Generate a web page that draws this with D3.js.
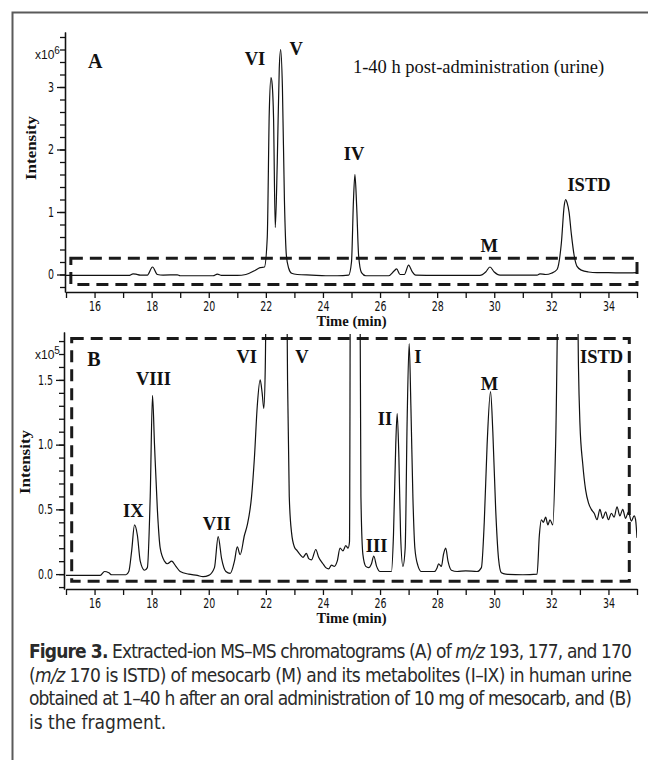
<!DOCTYPE html>
<html>
<head>
<meta charset="utf-8">
<script src="https://cdn.jsdelivr.net/npm/d3@7"></script>
<style>
  body { margin: 0; background: #fff; }
  svg { display: block; }
  .tick text { font-family: "Liberation Sans Narrow", "DejaVu Sans Condensed", sans-serif; font-size: 13.5px; fill: #111; }
  .lab { font-family: "Liberation Serif", "Times New Roman", serif; font-weight: bold; fill: #111; }
  .cap { font-family: "Liberation Sans Narrow", "DejaVu Sans Condensed", sans-serif; font-size: 19px; fill: #2a2a2a; }
</style>
</head>
<body>
<script>
// retention time (min), intensity (x10^6) - panel A
const traceA = [
  [15.0,-0.015],[17.2,-0.015],[17.35,0.01],[17.45,0.005],[17.6,-0.01],[17.85,-0.01],
  [18.03,0.12],[18.2,0.0],[18.4,-0.01],[18.9,-0.005],[19.0,-0.02],[20.15,-0.02],
  [20.3,0.005],[20.45,-0.015],[21.0,-0.015],[21.3,0.0],[21.6,0.06],[21.8,0.11],
  [21.95,0.12],[22.05,0.6],[22.12,2.6],[22.18,3.15],[22.22,3.05],[22.27,2.5],
  [22.33,0.75],[22.4,1.8],[22.47,3.3],[22.52,3.6],[22.58,3.0],[22.65,1.2],
  [22.72,0.3],[22.8,0.1],[22.9,0.02],[23.1,0.0],[23.6,-0.01],[24.1,-0.02],
  [24.5,-0.02],[24.9,-0.01],[25.0,0.2],[25.07,1.2],[25.12,1.6],[25.18,1.1],
  [25.25,0.3],[25.35,0.03],[25.5,-0.02],[26.3,-0.02],[26.5,0.06],[26.58,0.09],
  [26.7,0.0],[26.85,0.0],[27.0,0.15],[27.12,0.05],[27.25,-0.01],[28.0,-0.015],
  [29.5,-0.015],[29.7,0.04],[29.85,0.12],[30.0,0.04],[30.2,-0.01],[31.5,-0.01],
  [31.6,0.01],[31.8,0.0],[32.0,0.02],[32.2,0.08],[32.35,0.5],[32.45,1.1],
  [32.5,1.2],[32.55,1.15],[32.62,1.0],[32.7,0.65],[32.8,0.3],[32.9,0.13],
  [33.05,0.07],[33.3,0.04],[33.6,0.03],[34.0,0.03],[34.5,0.025],[35.0,0.03]
];

// retention time (min), intensity (x10^5) - panel B (values over 1.86 are off scale)
const traceB = [
  [15.0,-0.01],[16.2,-0.01],[16.35,0.02],[16.5,0.01],[16.6,-0.005],[17.1,-0.005],
  [17.2,0.02],[17.3,0.18],[17.4,0.38],[17.5,0.3],[17.6,0.1],[17.75,0.03],
  [17.85,0.05],[17.95,0.6],[18.03,1.38],[18.1,1.0],[18.2,0.5],[18.3,0.2],
  [18.45,0.1],[18.55,0.08],[18.7,0.1],[18.85,0.06],[19.0,0.02],[19.3,0.0],
  [19.6,-0.01],[19.8,-0.02],[20.0,-0.01],[20.2,0.05],[20.33,0.29],[20.45,0.12],
  [20.6,0.02],[20.75,0.005],[20.9,0.1],[21.0,0.21],[21.1,0.15],[21.25,0.3],
  [21.35,0.38],[21.5,0.6],[21.6,0.9],[21.7,1.3],[21.8,1.5],[21.87,1.4],
  [21.93,1.28],[21.98,1.6],[22.05,3.0],[22.7,3.0],[22.76,1.5],[22.82,0.6],
  [22.9,0.32],[23.0,0.21],[23.1,0.18],[23.2,0.15],[23.3,0.13],[23.42,0.16],
  [23.5,0.12],[23.6,0.11],[23.75,0.19],[23.85,0.13],[24.0,0.08],[24.1,0.05],
  [24.2,0.04],[24.3,0.07],[24.4,0.06],[24.5,0.1],[24.6,0.2],[24.7,0.18],
  [24.8,0.22],[24.88,0.2],[24.93,0.25],[24.97,3.0],[25.28,3.0],[25.33,0.6],
  [25.4,0.15],[25.5,0.06],[25.6,0.05],[25.7,0.08],[25.78,0.14],[25.88,0.06],
  [26.0,0.02],[26.2,0.02],[26.4,0.02],[26.47,0.3],[26.55,1.0],[26.6,1.24],
  [26.66,0.9],[26.72,0.3],[26.8,0.06],[26.88,0.2],[26.95,1.2],[27.02,1.78],
  [27.08,1.3],[27.15,0.6],[27.22,0.2],[27.32,0.07],[27.45,0.02],[27.9,0.02],
  [28.0,0.05],[28.05,0.08],[28.15,0.06],[28.22,0.15],[28.3,0.2],[28.38,0.1],
  [28.5,0.03],[28.7,0.02],[29.0,0.025],[29.4,0.02],[29.55,0.05],[29.65,0.4],
  [29.75,1.0],[29.87,1.41],[29.95,1.1],[30.05,0.5],[30.15,0.12],[30.25,0.01],
  [30.4,0.0],[31.0,-0.005],[31.5,0.0],[31.58,0.3],[31.65,0.42],[31.72,0.4],
  [31.8,0.44],[31.88,0.38],[31.95,0.42],[32.05,0.38],[32.15,1.0],[32.3,3.0],
  [32.88,3.0],[32.95,1.6],[33.0,1.17],[33.1,0.85],[33.2,0.65],[33.3,0.55],
  [33.4,0.5],[33.5,0.47],[33.6,0.42],[33.7,0.5],[33.8,0.43],[33.9,0.48],
  [34.0,0.42],[34.1,0.47],[34.2,0.44],[34.3,0.52],[34.4,0.45],[34.5,0.5],
  [34.6,0.43],[34.7,0.48],[34.8,0.41],[34.9,0.45],[34.95,0.42],[35.0,0.28]
];

// peak labels, anchored in (time, intensity)
const labelsA = [
  {name:'VI', t:21.62, v:3.36}, {name:'V', t:23.06, v:3.52}, {name:'IV', t:25.09, v:1.83},
  {name:'M', t:29.82, v:0.36}, {name:'ISTD', t:33.32, v:1.34}
];
const labelsB = [
  {name:'IX', t:17.36, v:0.44}, {name:'VIII', t:18.06, v:1.46}, {name:'VII', t:20.28, v:0.34},
  {name:'VI', t:21.33, v:1.63}, {name:'V', t:23.26, v:1.63}, {name:'III', t:25.88, v:0.17},
  {name:'II', t:26.17, v:1.155}, {name:'I', t:27.32, v:1.63}, {name:'M', t:29.83, v:1.425},
  {name:'ISTD', t:33.76, v:1.63}
];

const xTicks = [16,18,20,22,24,26,28,30,32,34];
const xMinor = d3.range(15, 35.01, 1);
const yTicksA = [0,1,2,3];
const yMinorA = d3.range(-0.2, 3.81, 0.2);
const yTicksB = [0,0.5,1.0,1.5];
const yMinorB = d3.range(-0.1, 1.81, 0.1);

// zoomed region of A shown in B (dashed)
const boxA = {t0:15.17, t1:35, v0:-0.16, v1:0.26};
const boxB = {t0:15.2, t1:34.73, v0:-0.055, v1:1.82};

const w = 648, h = 760;
const svg = d3.select('body').append('svg')
    .attr('width', w)
    .attr('height', h);

// page frame
svg.append('path')
    .attr('d', 'M12.5,760V12.5H648')
    .attr('fill', 'none')
    .attr('stroke', '#5a5a5a')
    .attr('stroke-width', 2);

const xRange = [66, 637];

function panel(o) {
    const x = d3.scaleLinear().domain([15, 35]).range(xRange);
    const y = d3.scaleLinear().domain(o.yDom).range(o.yRange);
    const g = svg.append('g');
    const sx = 0.78;

    // y axis minor + major
    g.append('g')
        .attr('transform', `translate(${o.axisX},0)`)
        .call(d3.axisLeft(y).tickValues(o.minor).tickSize(5).tickSizeOuter(0).tickFormat(''));
    const ya = g.append('g')
        .attr('transform', `translate(${o.axisX},0)`)
        .call(d3.axisLeft(y).tickValues(o.major).tickSize(8).tickSizeOuter(0).tickFormat(o.fmt));
    ya.selectAll('text')
        .attr('x', -11 / sx)
        .attr('transform', `scale(${sx},1)`);

    // x axis
    const xa = g.append('g')
        .attr('transform', `translate(0,${o.yRange[0]})`)
        .call(d3.axisBottom(x).tickValues(xMinor).tickSize(6).tickSizeOuter(0)
              .tickFormat(d => xTicks.includes(d) ? d : ''));
    xa.selectAll('text')
        .attr('y', 9)
        .attr('transform', `scale(${sx},1)`);

    g.selectAll('.domain, .tick line')
        .attr('stroke', '#111')
        .attr('stroke-width', 1.3);

    // multiplier label
    const mt = g.append('text')
        .attr('x', 35)
        .attr('y', o.multY)
        .attr('font-family', '"Liberation Sans Narrow", sans-serif')
        .attr('font-size', 12)
        .attr('fill', '#111');
    mt.append('tspan').text('x10');
    mt.append('tspan').attr('dy', -5).attr('font-size', 10).text(o.exp);

    // axis titles
    g.append('text')
        .attr('class', 'lab')
        .attr('transform', `translate(${o.titleX},${o.titleY}) rotate(-90)`)
        .attr('text-anchor', 'middle')
        .attr('font-size', 14)
        .attr('textLength', 64)
        .attr('lengthAdjust', 'spacingAndGlyphs')
        .text('Intensity');
    g.append('text')
        .attr('class', 'lab')
        .attr('x', (xRange[0] + xRange[1]) / 2)
        .attr('y', o.timeY)
        .attr('text-anchor', 'middle')
        .attr('font-size', 14)
        .attr('textLength', 70)
        .attr('lengthAdjust', 'spacingAndGlyphs')
        .text('Time (min)');

    // dashed region
    g.append('rect')
        .attr('x', x(o.box.t0))
        .attr('y', y(o.box.v1))
        .attr('width', x(o.box.t1) - x(o.box.t0))
        .attr('height', y(o.box.v0) - y(o.box.v1))
        .attr('fill', 'none')
        .attr('stroke', '#1a1a1a')
        .attr('stroke-width', 3)
        .attr('stroke-dasharray', '12,7');

    // trace
    const clipId = 'clip' + o.exp;
    svg.append('clipPath').attr('id', clipId)
        .append('rect')
        .attr('x', xRange[0]).attr('y', y(o.clipTop))
        .attr('width', xRange[1] - xRange[0])
        .attr('height', o.yRange[0] - y(o.clipTop));
    const line = d3.line()
        .x(d => x(d[0]))
        .y(d => y(d[1]))
        .curve(d3.curveMonotoneX);
    g.append('path')
        .datum(o.trace)
        .attr('clip-path', `url(#${clipId})`)
        .attr('d', line)
        .attr('fill', 'none')
        .attr('stroke', '#111')
        .attr('stroke-width', 1.2)
        .attr('stroke-linejoin', 'round');

    // peak labels
    g.selectAll('.peak')
        .data(o.labels)
        .enter()
        .append('text')
        .attr('class', 'lab peak')
        .attr('x', d => x(d.t))
        .attr('y', d => y(d.v))
        .attr('text-anchor', 'middle')
        .attr('font-size', 18.5)
        .text(d => d.name);

    // panel letter
    g.append('text')
        .attr('class', 'lab')
        .attr('x', x(o.letter.t))
        .attr('y', y(o.letter.v))
        .attr('font-size', 20)
        .text(o.letter.name);

    return {x: x, y: y, g: g};
}

const pA = panel({
    yDom: [-0.28, 3.88], yRange: [292, 32], axisX: 65,
    major: yTicksA, minor: yMinorA, fmt: d3.format('d'),
    exp: '6', multY: 59, titleX: 36, titleY: 148, timeY: 326,
    box: boxA, trace: traceA, clipTop: 3.88, labels: labelsA,
    letter: {name: 'A', t: 15.77, v: 3.3}
});

const pB = panel({
    yDom: [-0.115, 1.87], yRange: [589, 332], axisX: 64,
    major: yTicksB, minor: yMinorB, fmt: d3.format('.1f'),
    exp: '5', multY: 359, titleX: 30, titleY: 462, timeY: 623,
    box: boxB, trace: traceB, clipTop: 1.855, labels: labelsB,
    letter: {name: 'B', t: 15.74, v: 1.61}
});

// note in panel A
pA.g.append('text')
    .attr('x', pA.x(25.05))
    .attr('y', pA.y(3.22))
    .attr('font-family', '"Liberation Serif", "Times New Roman", serif')
    .attr('font-size', 18.5)
    .attr('fill', '#111')
    .text('1-40 h post-administration (urine)');

// caption
const capLines = [
    [{t:'Figure 3.', b:true}, {t:' Extracted-ion MS\u2013MS chromatograms (A) of '}, {t:'m/z', i:true}, {t:' 193, 177, and 170'}],
    [{t:'('}, {t:'m/z', i:true}, {t:' 170 is ISTD) of mesocarb (M) and its metabolites (I\u2013IX) in human urine'}],
    [{t:'obtained at 1\u201340 h after an oral administration of 10 mg of mesocarb, and (B)'}],
    [{t:'is the fragment.'}]
];
const cap = svg.append('g');
capLines.forEach(function(parts, i) {
    const t = cap.append('text')
        .attr('class', 'cap')
        .attr('x', 29)
        .attr('y', 658 + i * 23.5);
    if (i < 3) t.attr('textLength', 603).attr('lengthAdjust', 'spacing');
    parts.forEach(function(p) {
        t.append('tspan')
            .attr('font-weight', p.b ? 'bold' : null)
            .attr('font-style', p.i ? 'italic' : null)
            .text(p.t);
    });
});
</script>
</body>
</html>
